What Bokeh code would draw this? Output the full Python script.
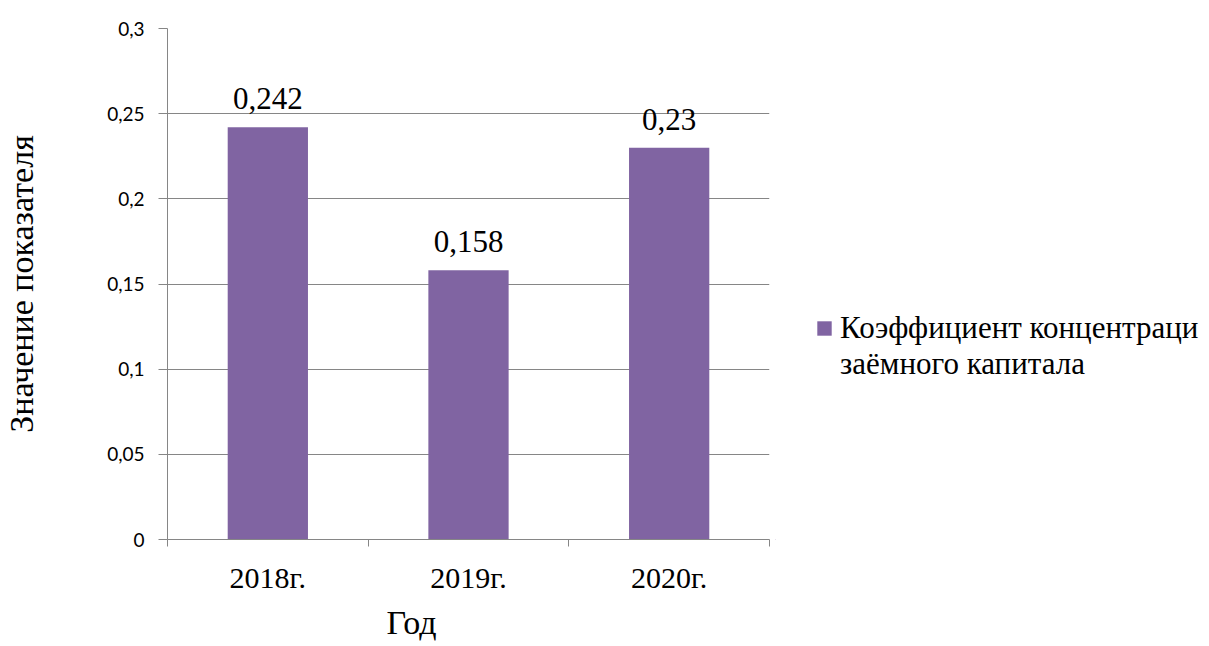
from bokeh.plotting import figure
from bokeh.layouts import row
from bokeh.models import (ColumnDataSource, Range1d, FixedTicker, LabelSet,
                          Legend, LegendItem, Title)
from bokeh.embed import file_html
from bokeh.resources import INLINE
import numpy as np

# Data
years = ["2018г.", "2019г.", "2020г."]
values = [0.242, 0.158, 0.23]
series_lines = ["Коэффициент концентраци", "заёмного капитала"]
y_ticks = [0, 0.05, 0.1, 0.15, 0.2, 0.25, 0.3]
y_tick_labels = ["0", "0,05", "0,1", "0,15", "0,2", "0,25", "0,3"]

BAR = "#8064A2"
GRID = "#868686"
SERIF = "Liberation Serif"
SANS = "Lato"

centers = np.arange(len(years)) + 0.5
source = ColumnDataSource(dict(
    x=centers,
    top=values,
    label=[str(v).replace(".", ",") for v in values],
))

# ---- main chart ----
p = figure(width=775, height=646, output_backend="svg", toolbar_location=None,
           x_range=Range1d(0, len(years)), y_range=Range1d(0, 0.3),
           min_border_left=166, min_border_right=6,
           min_border_top=28, min_border_bottom=107)
p.outline_line_color = None
p.background_fill_color = "white"
p.border_fill_color = "white"

p.vbar(x="x", top="top", width=0.4, source=source,
       fill_color=BAR, line_color=None)

# value labels above bars
p.add_layout(LabelSet(x="x", y="top", text="label", source=source,
                      text_align="center", text_baseline="bottom", y_offset=18,
                      text_font=SERIF, text_font_size="31px", text_color="black"))

# x axis: labels under bars, tick marks on category boundaries
xa = p.xaxis[0]
xa.ticker = FixedTicker(ticks=list(centers), minor_ticks=list(np.arange(len(years) + 1)))
xa.major_label_overrides = {float(c): y for c, y in zip(centers, years)}
xa.major_tick_out = 0
xa.major_tick_in = 0
xa.minor_tick_out = 7
xa.minor_tick_in = 0
xa.minor_tick_line_color = GRID
xa.axis_line_color = GRID
xa.major_label_standoff = 14
xa.major_label_text_font = SERIF
xa.major_label_text_font_size = "30px"
xa.major_label_text_color = "black"

# x axis title, set a little left of the frame centre
p.add_layout(Title(text="Год", align="left", offset=219, standoff=11,
                   text_font=SERIF, text_font_size="34px",
                   text_font_style="normal", text_color="black"), "below")

# y axis
ya = p.yaxis[0]
ya.ticker = FixedTicker(ticks=y_ticks, minor_ticks=[])
ya.major_label_overrides = dict(zip(y_ticks, y_tick_labels))
ya.major_tick_out = 9
ya.major_tick_in = 0
ya.major_tick_line_color = GRID
ya.axis_line_color = GRID
ya.major_label_standoff = 14
ya.major_label_text_font = SANS
ya.major_label_text_font_size = "19px"
ya.major_label_text_color = "black"
ya.axis_label = "Значение показателя"
ya.axis_label_text_font = SERIF
ya.axis_label_text_font_size = "34px"
ya.axis_label_text_font_style = "normal"
ya.axis_label_text_color = "black"
ya.axis_label_standoff = 64

p.xgrid.grid_line_color = None
p.ygrid.grid_line_color = GRID
p.ygrid.ticker = FixedTicker(ticks=y_ticks)

# ---- legend panel ----
# its ranges lie away from the data, so the bars themselves stay out of view
lf = figure(width=434, height=646, output_backend="svg", toolbar_location=None,
            x_range=Range1d(10, 11), y_range=Range1d(10, 11),
            x_axis_type=None, y_axis_type=None,
            min_border_left=0, min_border_right=0,
            min_border_top=0, min_border_bottom=0)
lf.outline_line_color = None
lf.grid.grid_line_color = None
lf.background_fill_color = "white"
lf.border_fill_color = "white"

swatch = lf.vbar(x="x", top="top", width=0.4, source=source,
                 fill_color=BAR, line_color=None)
# the second legend line carries no swatch
blank = lf.vbar(x="x", top="top", width=0.4, source=source,
                fill_alpha=0, line_alpha=0)

legend = Legend(items=[LegendItem(label=series_lines[0], renderers=[swatch]),
                       LegendItem(label=series_lines[1], renderers=[blank])],
                location=(40, 157), border_line_color=None,
                background_fill_alpha=0, padding=0, margin=0, spacing=-2,
                glyph_width=18, glyph_height=18, label_standoff=7,
                label_text_font=SERIF, label_text_font_size="31px",
                label_text_color="black")
lf.add_layout(legend, "center")

layout = row(p, lf)
open("out.html", "w").write(file_html(layout, INLINE))
